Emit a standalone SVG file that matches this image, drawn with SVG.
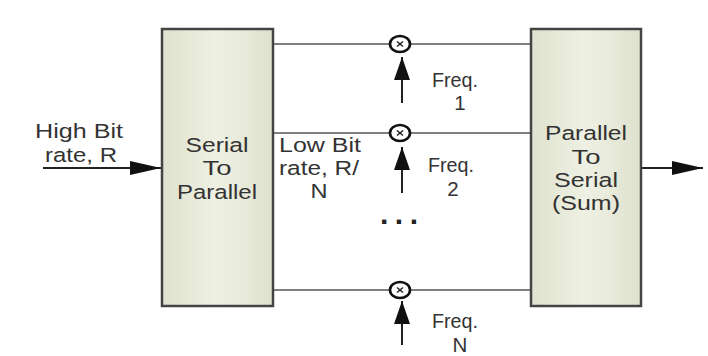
<svg xmlns="http://www.w3.org/2000/svg" width="708" height="356" viewBox="0 0 708 356">
  <defs>
    <linearGradient id="boxFill" x1="0" y1="0" x2="1" y2="0">
      <stop offset="0" stop-color="#e0e2cf"/>
      <stop offset="0.5" stop-color="#eef0e3"/>
      <stop offset="1" stop-color="#e0e2cf"/>
    </linearGradient>
    <marker id="arrV" markerUnits="userSpaceOnUse" markerWidth="24" markerHeight="16" viewBox="0 0 24 16" refX="23" refY="8" orient="auto">
      <path d="M0,0 L23,8 L0,16 Z" fill="#111"/>
    </marker>
    <marker id="arrH" markerUnits="userSpaceOnUse" markerWidth="32" markerHeight="16" viewBox="0 0 32 16" refX="31" refY="8" orient="auto">
      <path d="M0,1 L31,8 L0,15 Z" fill="#111"/>
    </marker>
  </defs>
  <style>
    text { font-family: "Liberation Sans", Arial, sans-serif; font-size: 20.5px; fill: #333; }
    .box { fill: url(#boxFill); stroke: #444; stroke-width: 2.5; }
    .wire { stroke: #555; stroke-width: 1.6; fill: none; }
    .arrow { stroke: #222; stroke-width: 2; fill: none; }
    .mix { fill: #fff; stroke: #111; stroke-width: 2.6; }
    .mixx { stroke: #222; stroke-width: 1.5; }
    .c { text-anchor: middle; }
  </style>
  <rect width="708" height="356" fill="#ffffff"/>

  <g id="connectors">
    <line class="wire" x1="273" y1="44" x2="531" y2="44"/>
    <line class="wire" x1="273" y1="133" x2="531" y2="133"/>
    <line class="wire" x1="273" y1="290" x2="531" y2="290"/>
    <line class="arrow" x1="43" y1="168" x2="161" y2="168" marker-end="url(#arrH)"/>
    <line class="arrow" x1="641" y1="168" x2="703" y2="168" marker-end="url(#arrH)"/>
    <line class="arrow" x1="402" y1="103" x2="402" y2="57" marker-end="url(#arrV)"/>
    <line class="arrow" x1="402" y1="193" x2="402" y2="147" marker-end="url(#arrV)"/>
    <line class="arrow" x1="402" y1="345" x2="402" y2="301" marker-end="url(#arrV)"/>
  </g>

  <g id="input-label">
    <text x="79" y="138" class="c" textLength="88" lengthAdjust="spacingAndGlyphs">High Bit</text>
    <text x="81" y="162" class="c" textLength="72" lengthAdjust="spacingAndGlyphs">rate, R</text>
  </g>

  <g id="serial-to-parallel">
    <rect class="box" x="162" y="29" width="111" height="277"/>
    <text x="217" y="152" class="c" textLength="63" lengthAdjust="spacingAndGlyphs">Serial</text>
    <text x="217" y="175" class="c" textLength="29" lengthAdjust="spacingAndGlyphs">To</text>
    <text x="217" y="199" class="c" textLength="80" lengthAdjust="spacingAndGlyphs">Parallel</text>
  </g>

  <g id="low-bit-label">
    <text x="320" y="152" class="c" textLength="82" lengthAdjust="spacingAndGlyphs">Low Bit</text>
    <text x="319" y="175" class="c" textLength="80" lengthAdjust="spacingAndGlyphs">rate, R/</text>
    <text x="319" y="198" class="c" textLength="17" lengthAdjust="spacingAndGlyphs">N</text>
  </g>

  <g id="mixer-1">
    <ellipse class="mix" cx="400" cy="44" rx="10" ry="8"/>
    <line class="mixx" x1="397" y1="41.5" x2="403" y2="46.5"/>
    <line class="mixx" x1="403" y1="41.5" x2="397" y2="46.5"/>
    <text x="455" y="87" class="c" textLength="46" lengthAdjust="spacingAndGlyphs">Freq.</text>
    <text x="460" y="110" class="c">1</text>
  </g>

  <g id="mixer-2">
    <ellipse class="mix" cx="400" cy="133" rx="10" ry="8"/>
    <line class="mixx" x1="397" y1="130.5" x2="403" y2="135.5"/>
    <line class="mixx" x1="403" y1="130.5" x2="397" y2="135.5"/>
    <text x="451" y="172" class="c" textLength="46" lengthAdjust="spacingAndGlyphs">Freq.</text>
    <text x="453" y="196" class="c">2</text>
  </g>

  <g id="ellipsis">
    <text x="399" y="224" class="c" style="font-size:30px;font-weight:bold;fill:#222" textLength="38" lengthAdjust="spacing">...</text>
  </g>

  <g id="mixer-n">
    <ellipse class="mix" cx="400" cy="290" rx="10" ry="8"/>
    <line class="mixx" x1="397" y1="287.5" x2="403" y2="292.5"/>
    <line class="mixx" x1="403" y1="287.5" x2="397" y2="292.5"/>
    <text x="455" y="328" class="c" textLength="46" lengthAdjust="spacingAndGlyphs">Freq.</text>
    <text x="460" y="352" class="c">N</text>
  </g>

  <g id="parallel-to-serial">
    <rect class="box" x="531" y="29" width="110" height="277"/>
    <text x="586" y="140" class="c" textLength="82" lengthAdjust="spacingAndGlyphs">Parallel</text>
    <text x="586" y="164" class="c" textLength="29" lengthAdjust="spacingAndGlyphs">To</text>
    <text x="586" y="187" class="c" textLength="64" lengthAdjust="spacingAndGlyphs">Serial</text>
    <text x="586" y="210" class="c" textLength="68" lengthAdjust="spacingAndGlyphs">(Sum)</text>
  </g>
</svg>
